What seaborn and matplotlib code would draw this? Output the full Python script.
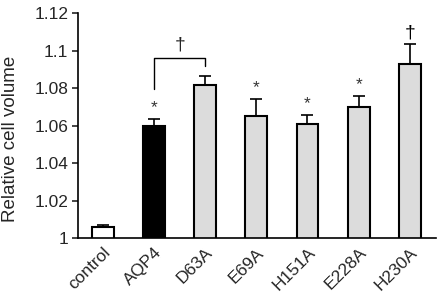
import matplotlib
matplotlib.use("Agg")
import matplotlib.pyplot as plt
import seaborn as sns
import numpy as np

categories = ["control", "AQP4", "D63A", "E69A", "H151A", "E228A", "H230A"]
values = [1.006, 1.0595, 1.0815, 1.0652, 1.0606, 1.070, 1.0926]
errors = [0.001, 0.004, 0.005, 0.009, 0.005, 0.006, 0.011]
colors = ["white", "black", "#dcdcdc", "#dcdcdc", "#dcdcdc", "#dcdcdc", "#dcdcdc"]
star_marks = ["", "*", "", "*", "*", "*", "†"]
yticks = [1, 1.02, 1.04, 1.06, 1.08, 1.1, 1.12]
ytick_labels = ["1", "1.02", "1.04", "1.06", "1.08", "1.1", "1.12"]

sns.set_style("white")
plt.rcParams["font.family"] = ["Liberation Sans", "DejaVu Sans"]

fig = plt.figure(figsize=(4.38, 3.04), dpi=100)
ax = fig.add_axes([0.178, 0.217, 0.817, 0.74])

sns.barplot(x=categories, y=values, hue=categories, palette=colors, legend=False,
            edgecolor="black", linewidth=1.5, width=0.43, ax=ax, zorder=2)

xs = np.arange(len(categories))
ax.errorbar(xs, values, yerr=[np.zeros(len(errors)), errors], fmt="none",
            ecolor="black", elinewidth=1.2, capsize=4, capthick=1.2, zorder=1)

for x, v, e, m in zip(xs, values, errors, star_marks):
    if m == "*":
        ax.text(x, v + e + 0.002, m, ha="center", va="bottom", fontsize=12.5, color="#333333")
    elif m == "†":
        ax.text(x, v + e + 0.001, m, ha="center", va="bottom", fontsize=14, color="black")

# bracket between AQP4 and D63A
yb = 1.0962
ax.plot([1, 1, 2, 2], [1.0797, yb, yb, 1.0917], color="black", lw=1.0)
ax.text(1.5, yb + 0.002, "†", ha="center", va="bottom", fontsize=14)

ax.set_ylim(1, 1.12)
ax.set_xlim(-0.49, 6.51)
ax.set_yticks(yticks)
ax.set_yticklabels(ytick_labels, fontsize=12.5)
ax.set_xticks(xs)
ax.set_xticklabels(categories, rotation=45, ha="right", rotation_mode="anchor", fontsize=12.5)
ax.tick_params(axis="y", direction="out", length=4, width=1.2, left=True, pad=3)
ax.tick_params(axis="x", length=0, pad=5)
ax.set_xlabel("")
ax.set_ylabel("Relative cell volume", fontsize=13.5)
ax.yaxis.set_label_coords(-0.165, 0.44)
for s in ["top", "right"]:
    ax.spines[s].set_visible(False)
for s in ["left", "bottom"]:
    ax.spines[s].set_color("black")
    ax.spines[s].set_linewidth(1.2)

fig.savefig("out.png", dpi=100)
